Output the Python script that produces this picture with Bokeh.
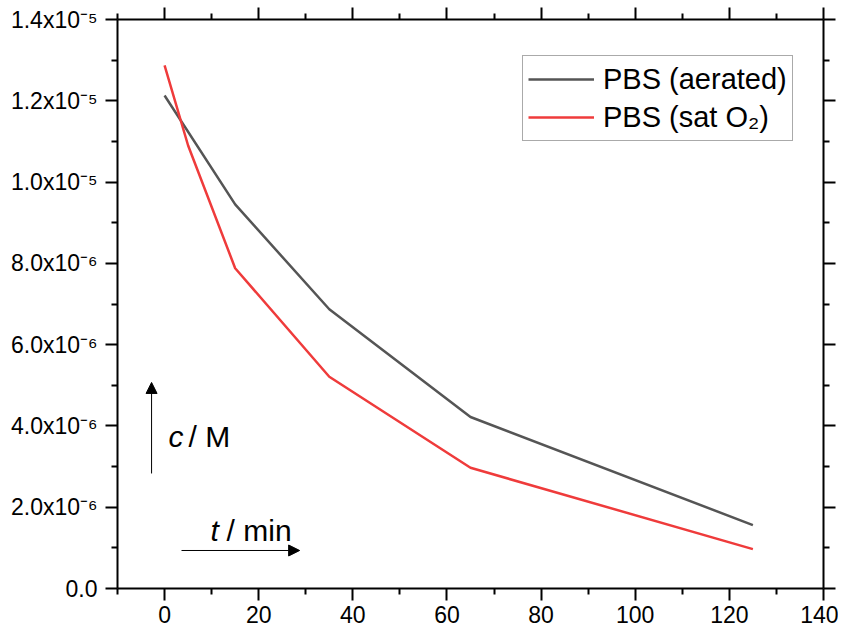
import numpy as np
from bokeh.plotting import figure
from bokeh.models import (Range1d, LinearAxis, FixedTicker, Legend, LegendItem, Arrow,
                          NormalHead, CustomJSTickFormatter, Label)
from bokeh.embed import file_html
from bokeh.resources import INLINE

# ---------------- data ----------------
time_aerated = [0, 15, 35, 65, 125]
conc_aerated = [1.213e-5, 9.45e-6, 6.87e-6, 4.22e-6, 1.56e-6]

time_sat = [0, 5, 15, 35, 65, 125]
conc_sat = [1.287e-5, 1.09e-5, 7.88e-6, 5.21e-6, 2.97e-6, 0.97e-6]

series_names = ["PBS (aerated)", "PBS (sat O\u2082)"]

x_ticks = [0, 20, 40, 60, 80, 100, 120, 140]
x_minor = [-10, 10, 30, 50, 70, 90, 110, 130]
y_ticks = [0.0, 2e-6, 4e-6, 6e-6, 8e-6, 1.0e-5, 1.2e-5, 1.4e-5]
y_minor = [1e-6, 3e-6, 5e-6, 7e-6, 9e-6, 1.1e-5, 1.3e-5]
y_tick_mantissa = ["0.0", "2.0x10", "4.0x10", "6.0x10", "8.0x10", "1.0x10", "1.2x10", "1.4x10"]
y_tick_exponent = ["", "\u207b\u2076", "\u207b\u2076", "\u207b\u2076", "\u207b\u2076",
                   "\u207b\u2075", "\u207b\u2075", "\u207b\u2075"]
y_tick_labels = [m + e for m, e in zip(y_tick_mantissa, y_tick_exponent)]

X_MIN, X_MAX = -10, 140
Y_MIN, Y_MAX = 0, 1.4e-5

FONT = "Liberation Sans"
GRAY = "#555555"
RED = "#EF3B3B"

p = figure(width=838, height=629, output_backend="svg", toolbar_location=None,
           x_range=Range1d(X_MIN, X_MAX), y_range=Range1d(Y_MIN, Y_MAX),
           min_border_left=117, min_border_right=15, min_border_top=19, min_border_bottom=41)
p.outline_line_color = None
p.xgrid.visible = False
p.ygrid.visible = False
p.background_fill_color = "white"
p.border_fill_color = "white"

empty_fmt = CustomJSTickFormatter(code="return '';")


def style_axis(ax):
    ax.axis_line_width = 2
    ax.axis_line_color = "black"
    ax.major_tick_line_width = 2
    ax.minor_tick_line_width = 2
    ax.major_tick_line_color = "black"
    ax.minor_tick_line_color = "black"
    ax.major_tick_in = 0
    ax.major_tick_out = 12
    ax.minor_tick_in = 0
    ax.minor_tick_out = 6


# bottom axis with labels
xax = p.xaxis[0]
xax.ticker = FixedTicker(ticks=x_ticks, minor_ticks=x_minor)
style_axis(xax)
xax.major_label_text_font = FONT
xax.major_label_text_font_size = "23px"
xax.major_label_text_color = "black"
xax.major_label_standoff = 5

# left axis with scientific labels
yax = p.yaxis[0]
yax.ticker = FixedTicker(ticks=y_ticks, minor_ticks=y_minor)
yax.formatter = CustomJSTickFormatter(args=dict(vals=y_ticks, labs=y_tick_labels), code="""
    let best = 0, bd = Infinity;
    for (let i = 0; i < vals.length; i++) {
        const d = Math.abs(vals[i] - tick);
        if (d < bd) { bd = d; best = i; }
    }
    return labs[best];
""")
style_axis(yax)
yax.major_label_text_font = FONT
yax.major_label_text_font_size = "23px"
yax.major_label_text_color = "black"
yax.major_label_standoff = 8

top_ax = LinearAxis(ticker=FixedTicker(ticks=x_ticks, minor_ticks=x_minor), formatter=empty_fmt)
style_axis(top_ax)
p.add_layout(top_ax, "above")

right_ax = LinearAxis(ticker=FixedTicker(ticks=y_ticks, minor_ticks=y_minor), formatter=empty_fmt)
style_axis(right_ax)
p.add_layout(right_ax, "right")

# data lines
r1 = p.line(time_aerated, conc_aerated, line_color=GRAY, line_width=2.5)
r2 = p.line(time_sat, conc_sat, line_color=RED, line_width=2.5)

legend = Legend(items=[LegendItem(label=series_names[0], renderers=[r1]),
                       LegendItem(label=series_names[1], renderers=[r2])],
                location=(405, 447), margin=0, padding=5, spacing=2,
                glyph_width=66, glyph_height=36, label_height=36, label_standoff=9,
                label_text_font=FONT, label_text_font_size="29px", label_text_color="black",
                border_line_color="#555555", border_line_width=1,
                background_fill_color="white", background_fill_alpha=1)
p.add_layout(legend)

# axis-name annotations with arrows
p.add_layout(Arrow(x_start=-2.76, y_start=2.83e-6, x_end=-2.76, y_end=5.07e-6,
                   line_width=1, line_color="black",
                   end=NormalHead(size=11, fill_color="black", line_color="black")))
p.add_layout(Arrow(x_start=3.6, y_start=0.935e-6, x_end=28.7, y_end=0.935e-6,
                   line_width=1, line_color="black",
                   end=NormalHead(size=11, fill_color="black", line_color="black")))

p.add_layout(Label(x=0.85, y=3.74e-6, text="c", text_font_style="italic", text_color="black",
                   text_baseline="middle", text_font=FONT, text_font_size="30px"))
p.add_layout(Label(x=0.85, y=3.74e-6, x_offset=20, text="/ M", text_color="black",
                   text_baseline="middle", text_font=FONT, text_font_size="30px"))
p.add_layout(Label(x=9.77, y=1.43e-6, text="t", text_font_style="italic", text_color="black",
                   text_baseline="middle", text_font=FONT, text_font_size="30px"))
p.add_layout(Label(x=9.77, y=1.43e-6, x_offset=16, text="/ min", text_color="black",
                   text_baseline="middle", text_font=FONT, text_font_size="30px"))

open("out.html", "w").write(file_html(p, INLINE))
